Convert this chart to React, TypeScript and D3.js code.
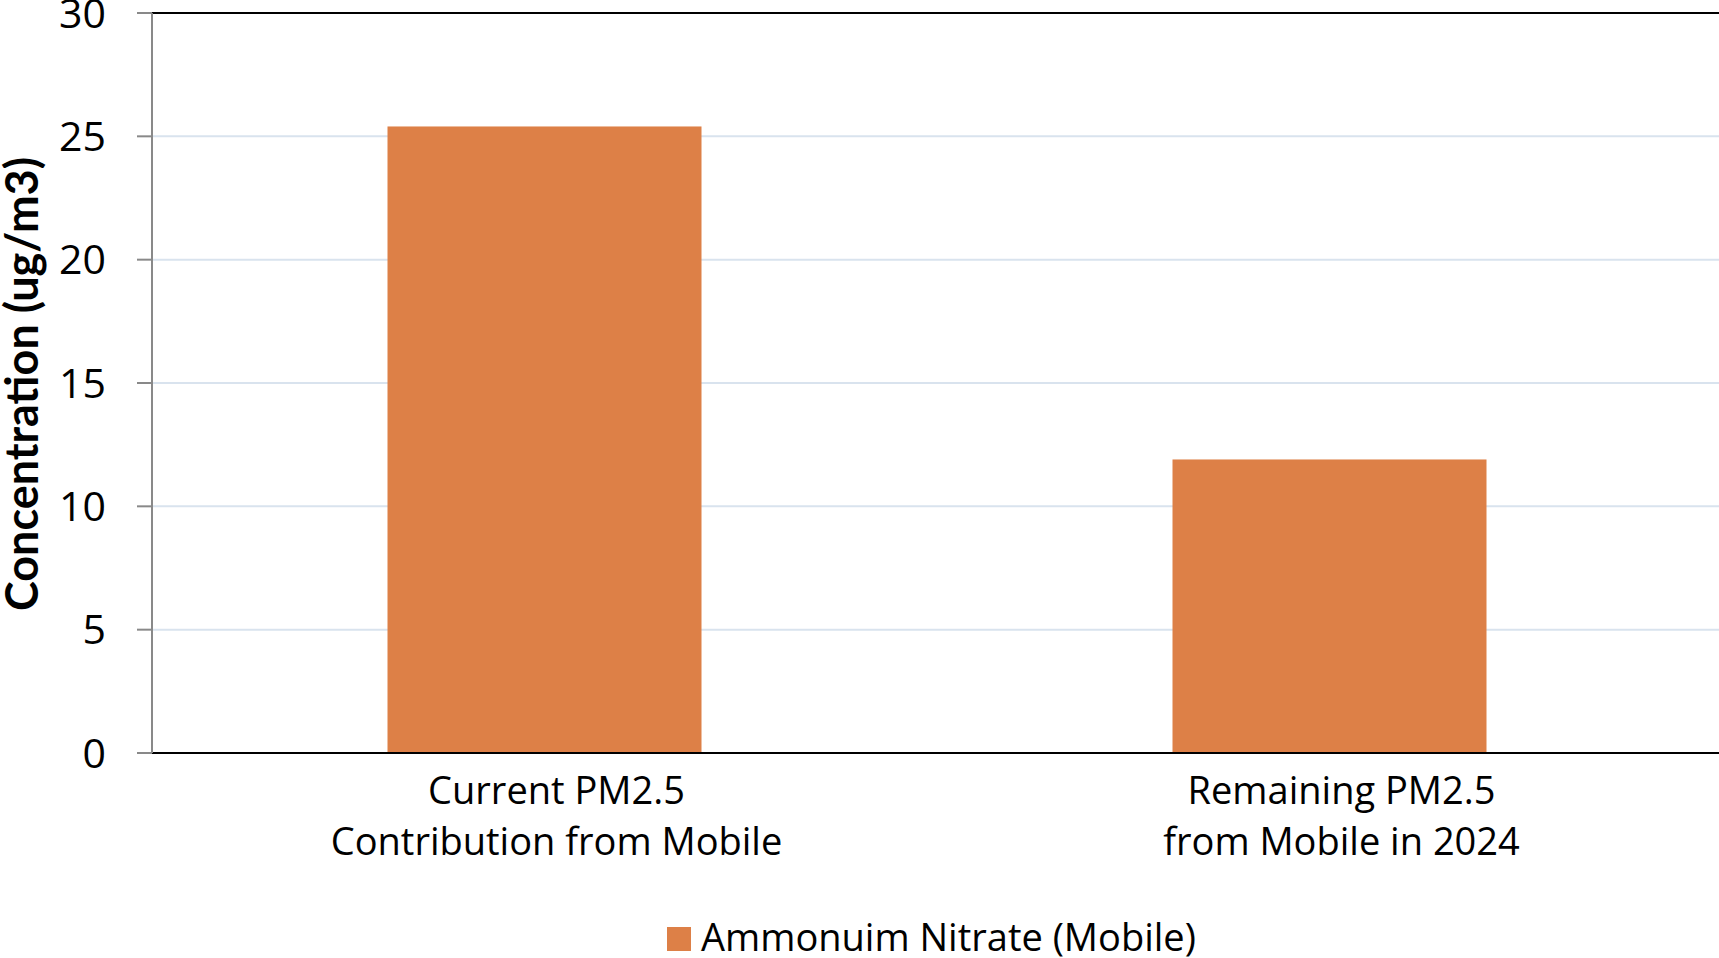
import React from 'react';
import * as d3 from 'd3';

const categories = [
  ['Current PM2.5', 'Contribution from Mobile'],
  ['Remaining PM2.5', 'from Mobile in 2024'],
];
const values = [25.4, 11.9];
const yTicks = [0, 5, 10, 15, 20, 25, 30];
const seriesName = 'Ammonuim Nitrate (Mobile)';
const yTitle = 'Concentration (ug/m3)';

export default function App() {
  const width = 1719;
  const height = 958;
  const marginLeft = 152;
  const marginTop = 13;
  const plotBottom = 753;
  const color = '#dd8047';
  const font = '"Open Sans", Lato, sans-serif';

  const x = d3.scaleBand<number>()
    .domain(d3.range(categories.length))
    .range([marginLeft, marginLeft + 1570])
    .paddingInner(0.6)
    .paddingOuter(0.3);

  const y = d3.scaleLinear().domain([0, 30]).range([plotBottom, marginTop]);

  return (
    <svg width={width} height={height} style={{ position: 'absolute', left: 0, top: 0 }}>
      {/* gridlines */}
      {yTicks.filter(t => t > 0 && t < 30).map(t => (
        <line key={'g' + t} x1={marginLeft} x2={width} y1={y(t)} y2={y(t)} stroke="#d9e3ee" strokeWidth={2} />
      ))}
      {/* bars */}
      {values.map((v, i) => (
        <rect key={i} x={x(i)} y={y(v)} width={x.bandwidth()} height={y(0) - y(v)} fill={color} />
      ))}
      {/* frame */}
      <line x1={marginLeft} x2={width} y1={marginTop} y2={marginTop} stroke="#000" strokeWidth={2} />
      <line x1={marginLeft} x2={width} y1={plotBottom} y2={plotBottom} stroke="#000" strokeWidth={2} />
      <line x1={marginLeft} x2={marginLeft} y1={marginTop} y2={plotBottom} stroke="#898989" strokeWidth={2} />
      {/* y ticks */}
      {yTicks.map(t => (
        <g key={'t' + t}>
          <line x1={marginLeft - 15} x2={marginLeft} y1={y(t)} y2={y(t)} stroke="#898989" strokeWidth={2} />
          <text x={106} y={y(t)} dy="0.36em" textAnchor="end" fontFamily={font} fontSize={41} fill="#000">{t}</text>
        </g>
      ))}
      <text transform={`translate(38,384) rotate(-90)`} textAnchor="middle"
        fontFamily="Lato, sans-serif" fontSize={45} fontWeight="bold" fill="#000">{yTitle}</text>
      {/* x labels */}
      {categories.map((lines, i) => (
        <text key={'c' + i} textAnchor="middle" fontFamily={font} fontSize={38} fill="#000">
          {lines.map((l, j) => (
            <tspan key={j} x={x(i)! + x.bandwidth() / 2 + 12} y={804 + j * 51}>{l}</tspan>
          ))}
        </text>
      ))}
      {/* legend */}
      <rect x={667} y={927} width={24} height={24} fill={color} />
      <text x={701} y={951} fontFamily={font} fontSize={38} fill="#000">{seriesName}</text>
    </svg>
  );
}
